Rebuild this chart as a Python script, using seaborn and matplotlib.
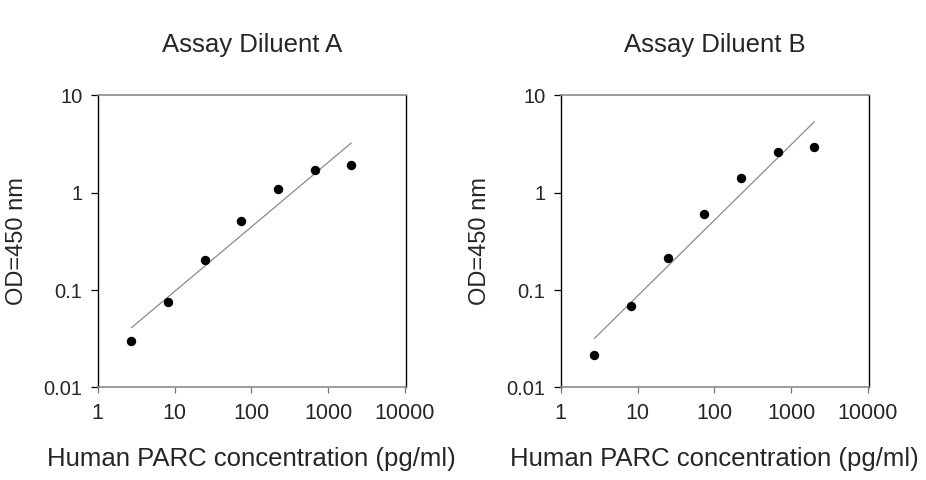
import numpy as np
import pandas as pd
import matplotlib
matplotlib.use("Agg")
import matplotlib.pyplot as plt
import seaborn as sns

# standard curve data
conc = [2.74, 8.23, 24.7, 74.1, 222.2, 666.7, 2000.0]
od_a = [0.030, 0.076, 0.203, 0.508, 1.10, 1.69, 1.94]
od_b = [0.0213, 0.069, 0.213, 0.599, 1.40, 2.60, 2.94]
titles = ["Assay Diluent A", "Assay Diluent B"]
x_ticks = [1, 10, 100, 1000, 10000]
x_tick_labels = ["1", "10", "100", "1000", "10000"]
y_ticks = [0.01, 0.1, 1, 10]
y_tick_labels = ["0.01", "0.1", "1", "10"]

sns.set_style("white")
plt.rcParams['font.family'] = ['Liberation Sans', 'DejaVu Sans']

fig = plt.figure(figsize=(9.26, 4.8), dpi=100)
axes = [fig.add_axes([0.1055, 0.193, 0.3329, 0.6085]),
        fig.add_axes([0.6055, 0.193, 0.3329, 0.6085])]

for ax, od, title in zip(axes, [od_a, od_b], titles):
    df = pd.DataFrame({'conc': conc, 'od': od})

    # log-log linear fit
    slope, icpt = np.polyfit(np.log10(df['conc']), np.log10(df['od']), 1)
    fit = pd.DataFrame({'conc': [conc[0], conc[-1]]})
    fit['od'] = 10 ** (icpt + slope * np.log10(fit['conc']))

    sns.lineplot(data=fit, x='conc', y='od', ax=ax, color='#8a8a8a', linewidth=0.9)
    sns.scatterplot(data=df, x='conc', y='od', ax=ax, color='black', s=46,
                    edgecolor='black', linewidth=0, zorder=3)

    ax.set_xscale('log')
    ax.set_yscale('log')
    ax.set_xlim(1, 10300)
    ax.set_ylim(0.01, 10)
    ax.set_xticks(x_ticks)
    ax.set_xticklabels(x_tick_labels)
    ax.set_yticks(y_ticks)
    ax.set_yticklabels(y_tick_labels)
    ax.minorticks_off()

    ax.tick_params(axis='x', bottom=True, direction='out', length=4, width=0.9,
                   color='#777777', labelsize=15.5, pad=7)
    ax.tick_params(axis='y', left=True, direction='out', length=5, width=0.9,
                   color='black', labelsize=14.5, pad=6)

    for side in ['top', 'bottom']:
        ax.spines[side].set_color('#8a8a8a')
        ax.spines[side].set_linewidth(1.2)
    for side in ['left', 'right']:
        ax.spines[side].set_color('black')
        ax.spines[side].set_linewidth(1.0)

    ax.set_title(title, fontsize=18.5, pad=31)
    ax.set_xlabel("Human PARC concentration (pg/ml)", fontsize=18.5, labelpad=17)
    ax.set_ylabel("OD=450 nm", fontsize=17, labelpad=11)

fig.savefig("out.png", dpi=100)
